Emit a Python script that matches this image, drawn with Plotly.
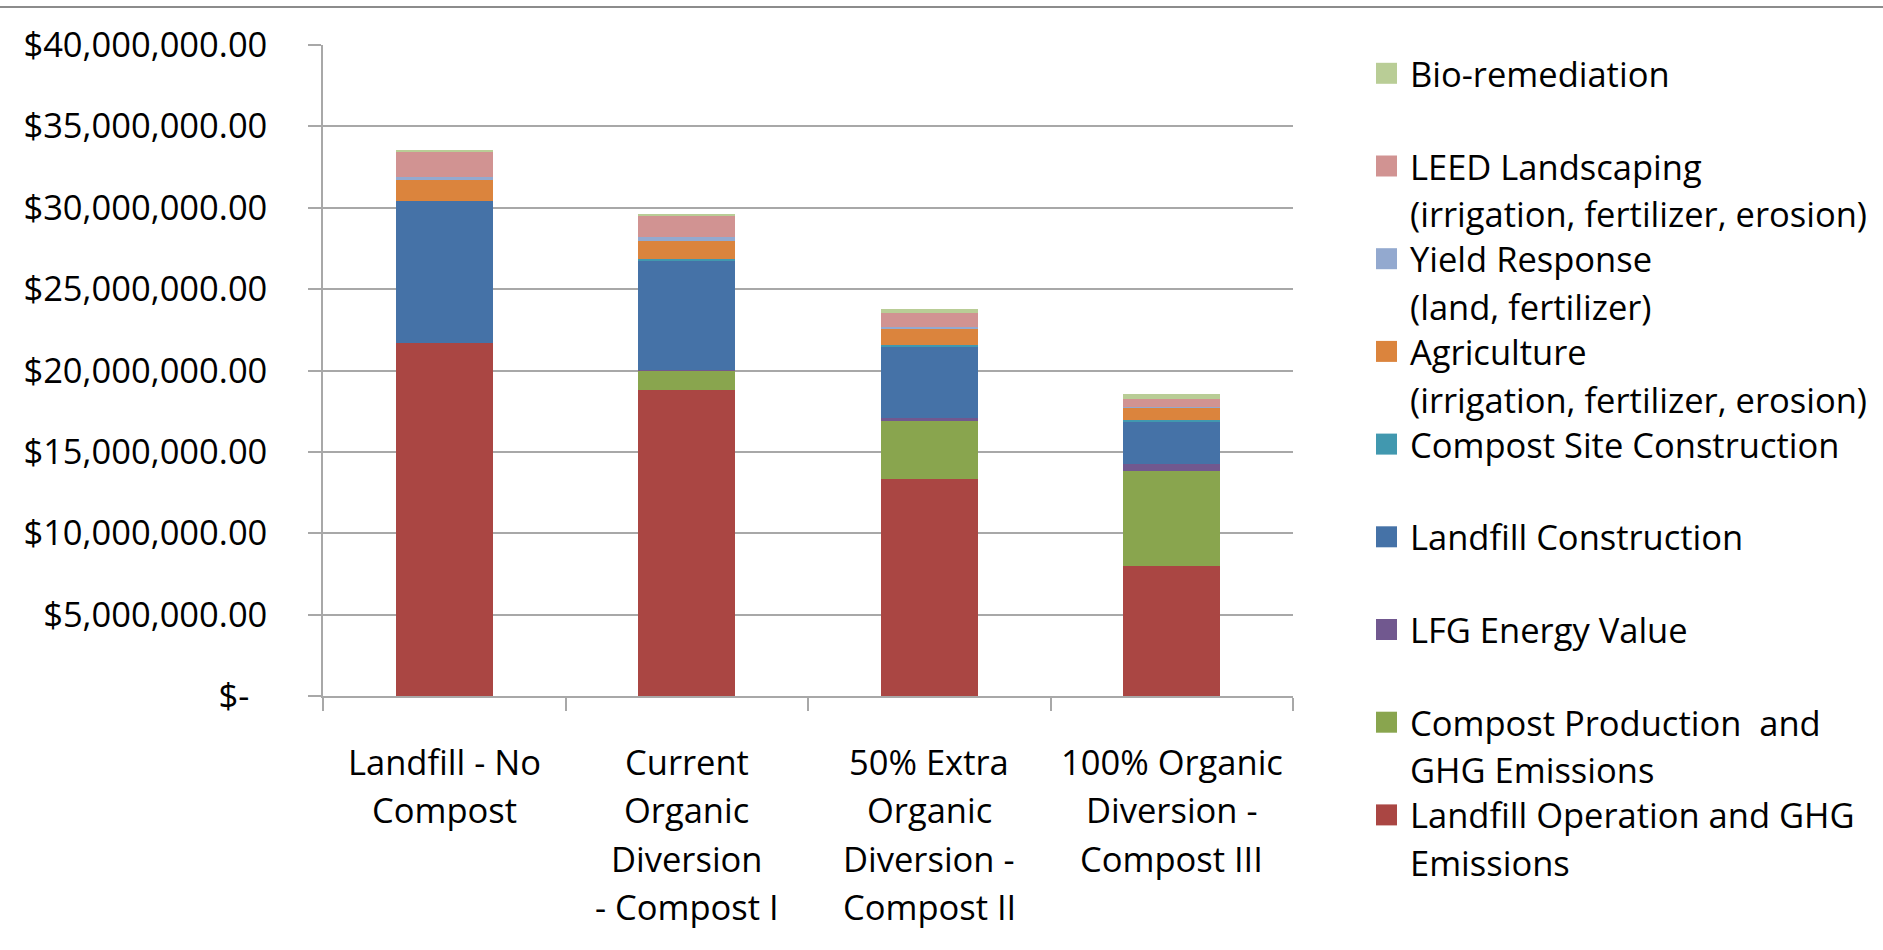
import plotly.graph_objects as go

# Scenario categories (x axis)
categories = [
    "Landfill - No<br>Compost",
    "Current<br>Organic<br>Diversion<br>- Compost I",
    "50% Extra<br>Organic<br>Diversion -<br>Compost II",
    "100% Organic<br>Diversion -<br>Compost III",
]

# Cost components per scenario, in dollars (stacked bottom to top)
landfill_operation = [21_710_000, 18_800_000, 13_350_000, 8_010_000]
compost_production = [0, 1_230_000, 3_570_000, 5_800_000]
lfg_energy_value = [0, 30_000, 140_000, 450_000]
landfill_construction = [8_700_000, 6_710_000, 4_430_000, 2_620_000]
compost_site_construction = [0, 80_000, 60_000, 60_000]
agriculture = [1_280_000, 1_110_000, 1_020_000, 800_000]
yield_response = [180_000, 220_000, 80_000, 20_000]
leed_landscaping = [1_600_000, 1_330_000, 900_000, 510_000]
bio_remediation = [60_000, 60_000, 230_000, 290_000]

series_names = [
    "Landfill Operation and GHG<br>Emissions",
    "Compost Production  and<br>GHG Emissions",
    "LFG Energy Value",
    "Landfill Construction",
    "Compost Site Construction",
    "Agriculture<br>(irrigation, fertilizer, erosion)",
    "Yield Response<br>(land, fertilizer)",
    "LEED Landscaping<br>(irrigation, fertilizer, erosion)",
    "Bio-remediation",
]
series_values = [
    landfill_operation, compost_production, lfg_energy_value,
    landfill_construction, compost_site_construction, agriculture,
    yield_response, leed_landscaping, bio_remediation,
]
series_colors = [
    "#AA4643", "#89A54E", "#71588F", "#4572A7", "#4198AF",
    "#DB843D", "#93A9CF", "#D19392", "#B9CD96",
]

# Y axis ticks
y_ticks = [0, 5_000_000, 10_000_000, 15_000_000, 20_000_000,
           25_000_000, 30_000_000, 35_000_000, 40_000_000]
y_ticktext = ["$-\u00a0\u00a0" if v == 0 else "${:,.2f}".format(v) for v in y_ticks]

W, H = 1883, 950
L, R, T, B = 323, 590, 45, 254
plot_w = W - L - R
plot_h = H - T - B

FONT = "Open Sans"
FS = 34.5
GRID = "#a8a8a8"

fig = go.Figure()
for name, vals, col in zip(series_names, series_values, series_colors):
    fig.add_trace(go.Bar(
        x=categories, y=vals, name=name.replace("<br>", " "),
        marker=dict(color=col, line=dict(width=0)),
        showlegend=False,
    ))


def px_x(px):
    return (px - L) / plot_w


def px_y(py):
    return (H - B - py) / plot_h


shapes = []
annotations = []

# Category labels, one text line at a time under each bar
label_first = 761.7
label_step = 48.3
for cat in categories:
    for j, line in enumerate(cat.split("<br>")):
        annotations.append(dict(
            xref="x", yref="paper", x=cat, y=px_y(label_first + j * label_step),
            xanchor="center", yanchor="middle", showarrow=False,
            text=line, font=dict(family=FONT, size=FS, color="#000000"),
        ))

# Legend drawn as squares + text, top entry = last series
first_line = 73.3
slot = 92.7
line_step = 47.6
for i, (name, col) in enumerate(zip(reversed(series_names), reversed(series_colors))):
    cy = first_line + i * slot
    shapes.append(dict(
        type="rect", xref="paper", yref="paper",
        x0=px_x(1376), x1=px_x(1397), y0=px_y(cy - 10.5), y1=px_y(cy + 10.5),
        fillcolor=col, line=dict(width=0),
    ))
    for j, line in enumerate(name.split("<br>")):
        annotations.append(dict(
            xref="paper", yref="paper", x=px_x(1408), y=px_y(cy + j * line_step),
            xanchor="left", yanchor="middle", showarrow=False,
            text=line, font=dict(family=FONT, size=FS, color="#000000"),
        ))

# Thin frame line across the top of the chart area
shapes.append(dict(
    type="line", xref="paper", yref="paper",
    x0=px_x(0), x1=px_x(W), y0=px_y(7), y1=px_y(7),
    line=dict(color="#8c8c8c", width=2),
))

fig.update_layout(
    width=W, height=H, autosize=False,
    margin=dict(l=L, r=R, t=T, b=B, pad=0),
    barmode="stack", bargap=0.6,
    plot_bgcolor="white", paper_bgcolor="white",
    font=dict(family=FONT, size=FS, color="#000000"),
    shapes=shapes, annotations=annotations,
    showlegend=False,
)
fig.update_xaxes(
    type="category", tickson="boundaries",
    ticks="outside", ticklen=13, tickwidth=1.5, tickcolor=GRID,
    showline=True, linecolor=GRID, linewidth=1.5,
    showgrid=False, showticklabels=False,
)
fig.update_yaxes(
    range=[0, 40_000_000], tickvals=y_ticks, ticktext=y_ticktext,
    ticks="outside", ticklen=13, tickwidth=1.5, tickcolor=GRID,
    showline=True, linecolor=GRID, linewidth=1.5,
    showgrid=True, gridcolor=GRID, gridwidth=1.5,
    zeroline=False, ticklabelstandoff=34,
    tickfont=dict(family=FONT, size=FS, color="#000000"),
)

fig.write_html("out.html")
